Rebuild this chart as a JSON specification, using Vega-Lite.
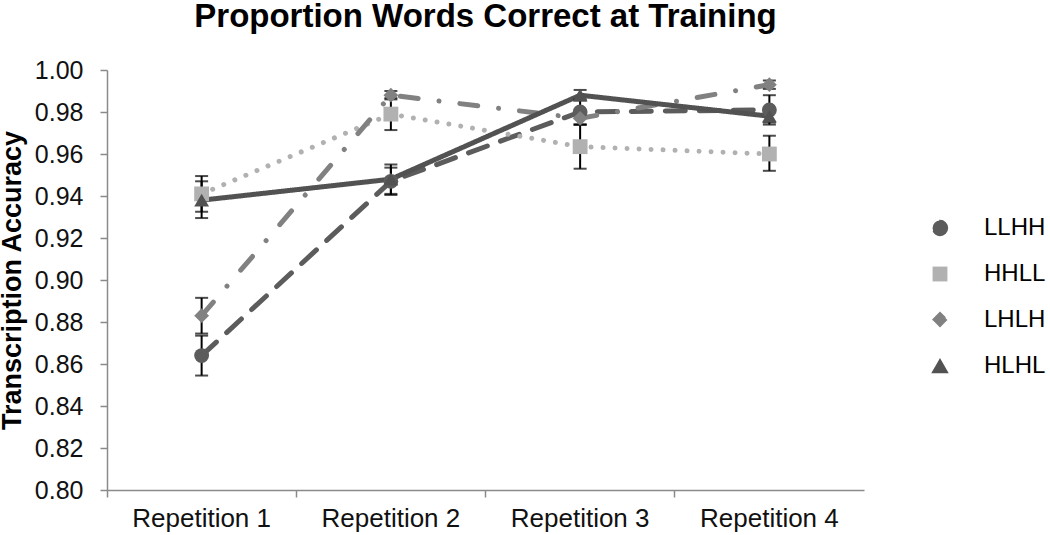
{
  "$schema": "https://vega.github.io/schema/vega-lite/v6.json",
  "width": 757,
  "height": 420,
  "autosize": "none",
  "padding": {"left": 107, "top": 70, "right": 186, "bottom": 45},
  "background": "white",
  "title": {
    "text": "Proportion Words Correct at Training",
    "font": "Liberation Sans",
    "fontSize": 33,
    "fontWeight": "bold",
    "color": "#000000",
    "anchor": "middle",
    "offset": 24
  },
  "config": {
    "view": {"stroke": null},
    "font": "Liberation Sans",
    "legend": {
      "orient": "none",
      "legendX": 786,
      "legendY": 146,
      "padding": 0,
      "symbolSize": 220,
      "symbolOffset": 35,
      "labelOffset": 32,
      "labelFontSize": 24,
      "labelColor": "#000000",
      "rowPadding": 22,
      "symbolStrokeWidth": 1.5,
      "symbolOpacity": 1
    }
  },
  "data": {
    "values": [
      {"rep": "Repetition 1", "series": "LLHH", "value": 0.864, "lo": 0.8545, "hi": 0.8735},
      {"rep": "Repetition 2", "series": "LLHH", "value": 0.947, "lo": 0.9405, "hi": 0.9535},
      {"rep": "Repetition 3", "series": "LLHH", "value": 0.980, "lo": 0.974, "hi": 0.986},
      {"rep": "Repetition 4", "series": "LLHH", "value": 0.981, "lo": 0.974, "hi": 0.988},
      {"rep": "Repetition 1", "series": "HHLL", "value": 0.941, "lo": 0.9325, "hi": 0.9495},
      {"rep": "Repetition 2", "series": "HHLL", "value": 0.979, "lo": 0.9714, "hi": 0.9866},
      {"rep": "Repetition 3", "series": "HHLL", "value": 0.9635, "lo": 0.953, "hi": 0.974},
      {"rep": "Repetition 4", "series": "HHLL", "value": 0.960, "lo": 0.952, "hi": 0.9687},
      {"rep": "Repetition 1", "series": "LHLH", "value": 0.883, "lo": 0.8745, "hi": 0.8915},
      {"rep": "Repetition 2", "series": "LHLH", "value": 0.988, "lo": 0.986, "hi": 0.990},
      {"rep": "Repetition 3", "series": "LHLH", "value": 0.977, "lo": 0.974, "hi": 0.980},
      {"rep": "Repetition 4", "series": "LHLH", "value": 0.993, "lo": 0.991, "hi": 0.995},
      {"rep": "Repetition 1", "series": "HLHL", "value": 0.938, "lo": 0.9295, "hi": 0.947},
      {"rep": "Repetition 2", "series": "HLHL", "value": 0.948, "lo": 0.941, "hi": 0.955},
      {"rep": "Repetition 3", "series": "HLHL", "value": 0.988, "lo": 0.9855, "hi": 0.9905},
      {"rep": "Repetition 4", "series": "HLHL", "value": 0.978, "lo": 0.975, "hi": 0.981}
    ]
  },
  "encoding": {
    "x": {
      "field": "rep",
      "type": "nominal",
      "title": null,
      "scale": {"type": "band", "paddingInner": 0, "paddingOuter": 0},
      "axis": {
        "labelAngle": 0,
        "bandPosition": 0,
        "labelFontSize": 26,
        "labelColor": "#111111",
        "labelPadding": 8,
        "tickSize": 7,
        "tickColor": "#8a8a8a",
        "tickWidth": 1.5,
        "domainColor": "#8a8a8a",
        "domainWidth": 1.5
      }
    },
    "y": {
      "field": "value",
      "type": "quantitative",
      "title": "Transcription Accuracy",
      "scale": {"domain": [0.8, 1.0], "nice": false, "zero": false},
      "axis": {
        "values": [0.80, 0.82, 0.84, 0.86, 0.88, 0.90, 0.92, 0.94, 0.96, 0.98, 1.00],
        "format": ".2f",
        "grid": false,
        "labelFontSize": 25,
        "labelColor": "#111111",
        "labelPadding": 17,
        "tickSize": 7,
        "tickColor": "#8a8a8a",
        "tickWidth": 1.5,
        "domainColor": "#8a8a8a",
        "domainWidth": 1.5,
        "titleFontSize": 27,
        "titleFontWeight": "bold",
        "titleColor": "#000000",
        "titlePadding": 8
      }
    }
  },
  "layer": [
    {
      "mark": {"type": "line", "strokeWidth": 5, "strokeCap": "round", "strokeJoin": "round"},
      "encoding": {
        "color": {
          "field": "series",
          "type": "nominal",
          "scale": {"domain": ["LLHH", "HHLL", "LHLH", "HLHL"], "range": ["#5c5c5c", "#b1b1b1", "#818181", "#525252"]},
          "legend": {"title": null}
        },
        "strokeDash": {
          "field": "series",
          "type": "nominal",
          "scale": {"domain": ["LLHH", "HHLL", "LHLH", "HLHL"], "range": [[20, 14], [0.01, 12], [18, 21, 0.01, 21], [1, 0]]},
          "legend": null
        }
      }
    },
    {
      "mark": {"type": "rule", "color": "#000000", "strokeWidth": 2},
      "encoding": {
        "y": {"field": "lo", "type": "quantitative"},
        "y2": {"field": "hi"}
      }
    },
    {
      "mark": {"type": "tick", "color": "#000000", "thickness": 2, "size": 13},
      "encoding": {
        "y": {"field": "lo", "type": "quantitative"}
      }
    },
    {
      "mark": {"type": "tick", "color": "#000000", "thickness": 2, "size": 13},
      "encoding": {
        "y": {"field": "hi", "type": "quantitative"}
      }
    },
    {
      "mark": {"type": "point", "filled": true, "size": 220, "opacity": 1},
      "encoding": {
        "color": {"field": "series", "type": "nominal", "legend": {"title": null}},
        "shape": {
          "field": "series",
          "type": "nominal",
          "scale": {"domain": ["LLHH", "HHLL", "LHLH", "HLHL"], "range": ["circle", "square", "diamond", "triangle-up"]},
          "legend": {"title": null}
        }
      }
    }
  ]
}
